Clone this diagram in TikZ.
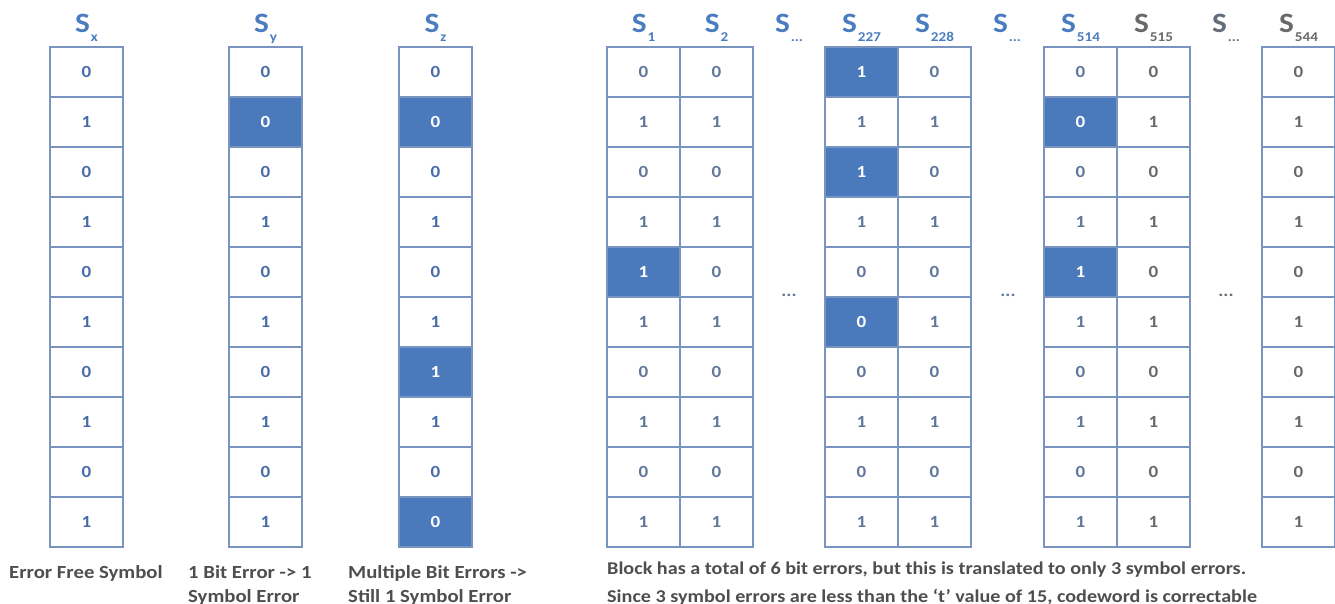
\documentclass[tikz,border=0pt]{standalone}
\usepackage{fontspec}
\setmainfont{Carlito}[FakeStretch=1.12]
\usepackage{xcolor}
\definecolor{cFehler}{RGB}{74,122,188}
\definecolor{cRand}{RGB}{122,148,192}
\definecolor{cKopf}{RGB}{74,124,192}
\definecolor{cZiffer}{RGB}{72,108,170}
\definecolor{cSchiefer}{RGB}{96,118,155}
\definecolor{cGrau}{RGB}{105,105,105}
\definecolor{cText}{RGB}{78,78,78}
\newcommand{\Sidx}[1]{S\kern1pt\raisebox{-9pt}{\fontsize{13.5}{13.5}\selectfont #1}}
% one symbol column: name, left edge, digit colour, digit/style list
\newcommand{\symcol}[4]{%
  \foreach \d/\f [count=\i] in {#4}
    \node[zelle,text=#3,\f] (#1-\i) at (#2+36.5,22+50*\i) {\d};}

\begin{document}
\begin{tikzpicture}[x=1pt,y=-1pt,font=\bfseries\fontsize{17}{17}\selectfont,
  zelle/.style={draw=cRand,line width=1.1pt,minimum width=73pt,minimum height=50pt,inner sep=0pt},
  ok/.style={},
  fehler/.style={fill=cFehler,text=white},
  kopf/.style={anchor=base,text=cKopf,font=\bfseries\fontsize{28}{28}\selectfont},
  notiz/.style={anchor=base west,inner sep=0pt,text=cText,font=\bfseries\fontsize{18.5}{18.5}\selectfont}]
\useasboundingbox (0,0) rectangle (1335,604);
% single symbols
\symcol{sx}{50}{cZiffer}{0/ok,1/ok,0/ok,1/ok,0/ok,1/ok,0/ok,1/ok,0/ok,1/ok}
\symcol{sy}{229}{cZiffer}{0/ok,0/fehler,0/ok,1/ok,0/ok,1/ok,0/ok,1/ok,0/ok,1/ok}
\symcol{sz}{399}{cZiffer}{0/ok,0/fehler,0/ok,1/ok,0/ok,1/ok,1/fehler,1/ok,0/ok,0/fehler}
% the block
\symcol{s1}{607}{cSchiefer}{0/ok,1/ok,0/ok,1/ok,1/fehler,1/ok,0/ok,1/ok,0/ok,1/ok}
\symcol{s2}{680}{cSchiefer}{0/ok,1/ok,0/ok,1/ok,0/ok,1/ok,0/ok,1/ok,0/ok,1/ok}
\symcol{s227}{825}{cSchiefer}{1/fehler,1/ok,1/fehler,1/ok,0/ok,0/fehler,0/ok,1/ok,0/ok,1/ok}
\symcol{s228}{898}{cSchiefer}{0/ok,1/ok,0/ok,1/ok,0/ok,1/ok,0/ok,1/ok,0/ok,1/ok}
\symcol{s514}{1044}{cSchiefer}{0/ok,0/fehler,0/ok,1/ok,1/fehler,1/ok,0/ok,1/ok,0/ok,1/ok}
\symcol{s515}{1117}{cGrau}{0/ok,1/ok,0/ok,1/ok,0/ok,1/ok,0/ok,1/ok,0/ok,1/ok}
\symcol{s544}{1262}{cGrau}{0/ok,1/ok,0/ok,1/ok,0/ok,1/ok,0/ok,1/ok,0/ok,1/ok}
\node[text=cSchiefer] (pktA) at (789,295){...};
\node[text=cSchiefer] (pktB) at (1008,295){...};
\node[text=cGrau] (pktC) at (1226,295){...};
% headers
\node[kopf] (hx) at (86.5,33){\Sidx{x}}; \node[kopf] (hy) at (265.5,33){\Sidx{y}};
\node[kopf] (hz) at (435.5,33){\Sidx{z}};
\node[kopf] (h1) at (643.5,33){\Sidx{1}}; \node[kopf] (h2) at (716.5,33){\Sidx{2}};
\node[kopf] (hpA) at (789,33){\Sidx{...}};
\node[kopf] (h227) at (861.5,33){\Sidx{227}}; \node[kopf] (h228) at (934.5,33){\Sidx{228}};
\node[kopf] (hpB) at (1007,33){\Sidx{...}};
\node[kopf] (h514) at (1080.5,33){\Sidx{514}};
\node[kopf,text=cGrau] (h515) at (1153.5,33){\Sidx{515}};
\node[kopf,text=cGrau!80!cKopf] (hpC) at (1226,33){\Sidx{...}};
\node[kopf,text=cGrau] (h544) at (1298.5,33){\Sidx{544}};
% notes
\node[notiz] (nx) at (9,578){Error Free Symbol};
\node[notiz] (nyA) at (188,578){1 Bit Error -> 1};
\node[notiz] (nyB) at (188,602){Symbol Error};
\node[notiz] (nzA) at (348,578){Multiple Bit Errors ->};
\node[notiz] (nzB) at (348,602){Still 1 Symbol Error};
\node[notiz,font=\bfseries\fontsize{18}{18}\selectfont] (nbA) at (607,574){Block has a total of 6 bit errors, but this is translated to only 3 symbol errors.};
\node[notiz,font=\bfseries\fontsize{18}{18}\selectfont] (nbB) at (607,602){Since 3 symbol errors are less than the ‘t’ value of 15, codeword is correctable};
\end{tikzpicture}
\end{document}
